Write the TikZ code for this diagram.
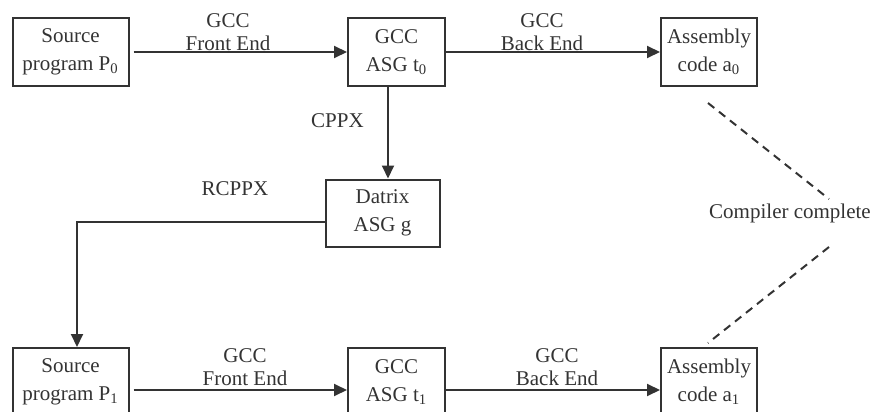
\documentclass[tikz,border=0pt]{standalone}
\usepackage{fontspec}
\setmainfont{Liberation Serif}
\usetikzlibrary{arrows.meta}

\definecolor{ink}{HTML}{333333}

\tikzset{
    box/.style={draw=ink, line width=1pt, text=ink, align=center,
        minimum height=34pt, inner sep=0pt,
        font=\fontsize{10.5}{14}\selectfont},
    flow/.style={draw=ink, line width=1pt, -{Triangle[length=6.5pt,width=6pt]}},
    lbl/.style={text=ink, align=center, inner sep=0pt,
        font=\fontsize{10.5}{11.5}\selectfont},
    hint/.style={draw=ink, line width=1pt, dash pattern=on 4pt off 3pt}
}

\begin{document}
\begin{tikzpicture}[x=0.5pt, y=-0.5pt]
            \useasboundingbox (0,0) rectangle (874,412);

            % upper row
            \node[box, minimum width=58pt] (src0) at (70.5,52)
                {Source\\program P\textsubscript{0}};
            \node[box, minimum width=48.5pt] (asg0) at (396.5,52)
                {GCC\\ASG t\textsubscript{0}};
            \node[box, minimum width=48pt] (asm0) at (709,52)
                {Assembly\\code a\textsubscript{0}};

            % Datrix
            \node[box, minimum width=57pt, minimum height=33.5pt] (dtx) at (382.5,213)
                {Datrix\\ASG g};

            % lower row
            \node[box, minimum width=58pt] (src1) at (70.5,382)
                {Source\\program P\textsubscript{1}};
            \node[box, minimum width=48.5pt] (asg1) at (396.5,382)
                {GCC\\ASG t\textsubscript{1}};
            \node[box, minimum width=48pt] (asm1) at (709,382)
                {Assembly\\code a\textsubscript{1}};

            % front end / back end
            \draw[flow] ([xshift=2pt]src0.east) -- (asg0.west);
            \draw[flow] (asg0.east) -- (asm0.west);
            \draw[flow] ([xshift=2pt,yshift=-4pt]src1.east) -- ([yshift=-4pt]asg1.west);
            \draw[flow] ([yshift=-4pt]asg1.east) -- ([yshift=-4pt]asm1.west);

            \node[lbl, anchor=base] (fe0) at (228,50) {GCC\\Front End};
            \node[lbl, anchor=base] (be0) at (542,50) {GCC\\Back End};
            \node[lbl, anchor=base] (fe1) at (245,385) {GCC\\Front End};
            \node[lbl, anchor=base] (be1) at (557,385) {GCC\\Back End};

            % CPPX
            \draw[flow] ([xshift=-4.25pt]asg0.south)
                -- ([xshift=-4.25pt]asg0.south |- dtx.north);
            \node[lbl] (cppx) at (337.5,121) {CPPX};

            % RCPPX
            \draw[flow] ([yshift=-4.5pt]dtx.west) -| ([xshift=3.25pt]src1.north);
            \node[lbl] (rcppx) at (235,189) {RCPPX};

            % compiler complete
            \node[lbl] (done) at (790,213) {Compiler complete};
            \coordinate (d0) at (708,103);
            \coordinate (d1) at (829,199);
            \coordinate (d2) at (829,247);
            \coordinate (d3) at (708,343);
            \draw[hint] (d0) -- (d1);
            \draw[hint] (d2) -- (d3);
        \end{tikzpicture}
\end{document}
